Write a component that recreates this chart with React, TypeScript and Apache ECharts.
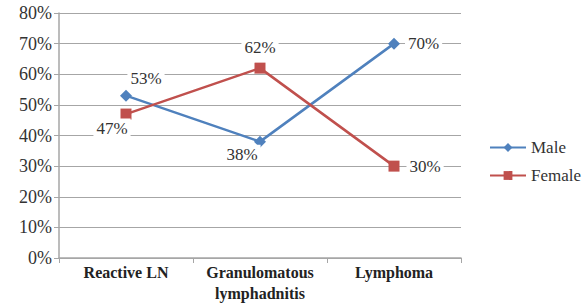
import React, { useEffect, useRef } from "react";
import * as echarts from "echarts";

const categories = ["Reactive LN", "Granulomatous\nlymphadnitis", "Lymphoma"];
const maleValues = [53, 38, 70];
const femaleValues = [47, 62, 30];
const yTicks = { min: 0, max: 80, interval: 10 };

const FONT = "Liberation Serif";

export default function App() {
  const ref = useRef<HTMLDivElement>(null);
  useEffect(() => {
    if (!ref.current) return;
    const chart = echarts.init(ref.current, undefined, { renderer: "svg" });
    const lbl = (pos: any, offset: number[]) => ({
      show: true,
      position: pos,
      offset,
      formatter: "{c}%",
      fontFamily: FONT,
      fontSize: 17,
      color: "#333",
      backgroundColor: "#fff",
      padding: [1, 3],
    });
    const maleLabels = [lbl("top", [20, 3]), lbl("bottom", [-18, -8]), lbl("right", [0, 0])];
    const femaleLabels = [lbl("bottom", [-14, -6]), lbl("top", [0, -1]), lbl("right", [2, 0])];
    chart.setOption({
      animation: false,
      textStyle: { fontFamily: FONT },
      grid: { left: 59, right: 121, top: 13, bottom: 48, outerBoundsMode: "none", containLabel: false },
      legend: {
        orient: "vertical",
        left: 484,
        top: 134,
        itemWidth: 36,
        itemHeight: 11,
        itemGap: 11,
        textStyle: { fontFamily: FONT, fontSize: 17, color: "#333" },
        data: ["Male", "Female"],
      },
      xAxis: {
        type: "category",
        data: categories,
        boundaryGap: true,
        axisLine: { lineStyle: { color: "#a6a6a6", width: 1.5 } },
        axisTick: { show: true, length: 5, lineStyle: { color: "#a6a6a6" } },
        axisLabel: {
          interval: 0,
          fontFamily: FONT,
          fontSize: 16,
          fontWeight: "bold",
          color: "#222",
          margin: 4,
          lineHeight: 21,
        },
      },
      yAxis: {
        type: "value",
        ...yTicks,
        axisLine: { show: true, lineStyle: { color: "#a6a6a6", width: 1.5 } },
        axisTick: { show: true, length: 5, lineStyle: { color: "#a6a6a6" } },
        splitLine: { lineStyle: { color: "#a6a6a6", width: 1.2 } },
        axisLabel: {
          formatter: "{value}%",
          fontFamily: FONT,
          fontSize: 18,
          color: "#333",
          margin: 7,
        },
      },
      series: [
        {
          name: "Male",
          type: "line",
          data: maleValues.map((v, i) => ({ value: v, label: maleLabels[i] })),
          symbol: "diamond",
          symbolSize: 12,
          lineStyle: { color: "#4f81bd", width: 2.5 },
          itemStyle: { color: "#4f81bd" },
        },
        {
          name: "Female",
          type: "line",
          data: femaleValues.map((v, i) => ({ value: v, label: femaleLabels[i] })),
          symbol: "rect",
          symbolSize: 11,
          lineStyle: { color: "#c0504d", width: 2.5 },
          itemStyle: { color: "#c0504d" },
        },
      ],
    });
    return () => chart.dispose();
  }, []);
  return (
    <div
      ref={ref}
      style={{ position: "fixed", left: 0, top: 0, width: 582, height: 306, background: "#fff" }}
    />
  );
}
